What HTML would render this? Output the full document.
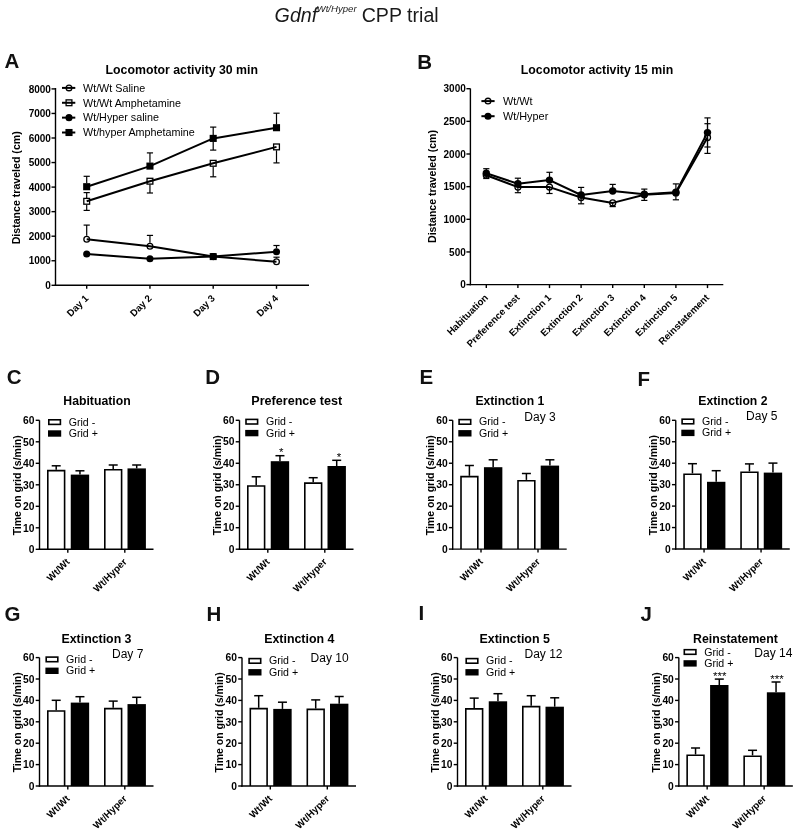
<!DOCTYPE html>
<html><head><meta charset="utf-8"><title>Gdnf CPP trial</title>
<style>
html,body{margin:0;padding:0;background:#fff;}
body{width:798px;height:832px;overflow:hidden;}
svg{display:block;font-family:"Liberation Sans", sans-serif;will-change:transform;}
</style></head>
<body>
<svg width="798" height="832" viewBox="0 0 798 832" font-family='"Liberation Sans", sans-serif'>
<rect width="798" height="832" fill="#fff"/>
<text x="274.6" y="21.5" font-size="19.7" font-style="italic" fill="#1a1a1a">Gdnf</text>
<text x="316.6" y="12.2" font-size="9.6" font-style="italic" fill="#1a1a1a">Wt/Hyper</text>
<text x="361.7" y="21.5" font-size="19.6" fill="#1a1a1a">CPP trial</text>
<text x="4.60" y="68.00" font-size="20.5" font-weight="bold" font-style="normal" text-anchor="start" fill="#111">A</text>
<text x="417.30" y="68.60" font-size="20.5" font-weight="bold" font-style="normal" text-anchor="start" fill="#111">B</text>
<text x="6.80" y="383.90" font-size="20.5" font-weight="bold" font-style="normal" text-anchor="start" fill="#111">C</text>
<text x="205.30" y="383.90" font-size="20.5" font-weight="bold" font-style="normal" text-anchor="start" fill="#111">D</text>
<text x="419.40" y="384.30" font-size="20.5" font-weight="bold" font-style="normal" text-anchor="start" fill="#111">E</text>
<text x="637.60" y="385.70" font-size="20.5" font-weight="bold" font-style="normal" text-anchor="start" fill="#111">F</text>
<text x="4.60" y="621.00" font-size="20.5" font-weight="bold" font-style="normal" text-anchor="start" fill="#111">G</text>
<text x="206.60" y="620.80" font-size="20.5" font-weight="bold" font-style="normal" text-anchor="start" fill="#111">H</text>
<text x="418.40" y="619.80" font-size="20.5" font-weight="bold" font-style="normal" text-anchor="start" fill="#111">I</text>
<text x="640.50" y="620.80" font-size="20.5" font-weight="bold" font-style="normal" text-anchor="start" fill="#111">J</text>
<line x1="55.50" y1="286.00" x2="55.50" y2="88.00" stroke="#000" stroke-width="1.4"/>
<line x1="51.50" y1="285.30" x2="55.50" y2="285.30" stroke="#000" stroke-width="1.4"/>
<text x="50.90" y="288.90" font-size="10" font-weight="bold" font-style="normal" text-anchor="end" fill="#000">0</text>
<line x1="51.50" y1="260.75" x2="55.50" y2="260.75" stroke="#000" stroke-width="1.4"/>
<text x="50.90" y="264.35" font-size="10" font-weight="bold" font-style="normal" text-anchor="end" fill="#000">1000</text>
<line x1="51.50" y1="236.20" x2="55.50" y2="236.20" stroke="#000" stroke-width="1.4"/>
<text x="50.90" y="239.80" font-size="10" font-weight="bold" font-style="normal" text-anchor="end" fill="#000">2000</text>
<line x1="51.50" y1="211.65" x2="55.50" y2="211.65" stroke="#000" stroke-width="1.4"/>
<text x="50.90" y="215.25" font-size="10" font-weight="bold" font-style="normal" text-anchor="end" fill="#000">3000</text>
<line x1="51.50" y1="187.10" x2="55.50" y2="187.10" stroke="#000" stroke-width="1.4"/>
<text x="50.90" y="190.70" font-size="10" font-weight="bold" font-style="normal" text-anchor="end" fill="#000">4000</text>
<line x1="51.50" y1="162.55" x2="55.50" y2="162.55" stroke="#000" stroke-width="1.4"/>
<text x="50.90" y="166.15" font-size="10" font-weight="bold" font-style="normal" text-anchor="end" fill="#000">5000</text>
<line x1="51.50" y1="138.00" x2="55.50" y2="138.00" stroke="#000" stroke-width="1.4"/>
<text x="50.90" y="141.60" font-size="10" font-weight="bold" font-style="normal" text-anchor="end" fill="#000">6000</text>
<line x1="51.50" y1="113.45" x2="55.50" y2="113.45" stroke="#000" stroke-width="1.4"/>
<text x="50.90" y="117.05" font-size="10" font-weight="bold" font-style="normal" text-anchor="end" fill="#000">7000</text>
<line x1="51.50" y1="88.90" x2="55.50" y2="88.90" stroke="#000" stroke-width="1.4"/>
<text x="50.90" y="92.50" font-size="10" font-weight="bold" font-style="normal" text-anchor="end" fill="#000">8000</text>
<line x1="54.80" y1="285.30" x2="309.00" y2="285.30" stroke="#000" stroke-width="1.4"/>
<line x1="86.70" y1="285.30" x2="86.70" y2="288.80" stroke="#000" stroke-width="1.4"/>
<text x="89.00" y="298.90" font-size="9.7" font-weight="bold" font-style="normal" text-anchor="end" fill="#000" transform="rotate(-45 89.00 298.90)">Day 1</text>
<line x1="149.95" y1="285.30" x2="149.95" y2="288.80" stroke="#000" stroke-width="1.4"/>
<text x="152.25" y="298.90" font-size="9.7" font-weight="bold" font-style="normal" text-anchor="end" fill="#000" transform="rotate(-45 152.25 298.90)">Day 2</text>
<line x1="213.20" y1="285.30" x2="213.20" y2="288.80" stroke="#000" stroke-width="1.4"/>
<text x="215.50" y="298.90" font-size="9.7" font-weight="bold" font-style="normal" text-anchor="end" fill="#000" transform="rotate(-45 215.50 298.90)">Day 3</text>
<line x1="276.50" y1="285.30" x2="276.50" y2="288.80" stroke="#000" stroke-width="1.4"/>
<text x="278.80" y="298.90" font-size="9.7" font-weight="bold" font-style="normal" text-anchor="end" fill="#000" transform="rotate(-45 278.80 298.90)">Day 4</text>
<text x="181.80" y="73.50" font-size="12.3" font-weight="bold" font-style="normal" text-anchor="middle" fill="#000">Locomotor activity 30 min</text>
<text x="20.40" y="187.80" font-size="10.6" font-weight="bold" font-style="normal" text-anchor="middle" fill="#000" transform="rotate(-90 20.40 187.80)">Distance traveled (cm)</text>
<line x1="86.70" y1="183.30" x2="86.70" y2="176.30" stroke="#000" stroke-width="1.2"/>
<line x1="83.60" y1="176.30" x2="89.80" y2="176.30" stroke="#000" stroke-width="1.2"/>
<line x1="149.95" y1="162.70" x2="149.95" y2="152.90" stroke="#000" stroke-width="1.2"/>
<line x1="146.85" y1="152.90" x2="153.05" y2="152.90" stroke="#000" stroke-width="1.2"/>
<line x1="213.20" y1="135.00" x2="213.20" y2="127.10" stroke="#000" stroke-width="1.2"/>
<line x1="210.10" y1="127.10" x2="216.30" y2="127.10" stroke="#000" stroke-width="1.2"/>
<line x1="213.20" y1="141.80" x2="213.20" y2="150.10" stroke="#000" stroke-width="1.2"/>
<line x1="210.10" y1="150.10" x2="216.30" y2="150.10" stroke="#000" stroke-width="1.2"/>
<line x1="276.50" y1="124.30" x2="276.50" y2="113.20" stroke="#000" stroke-width="1.2"/>
<line x1="273.40" y1="113.20" x2="279.60" y2="113.20" stroke="#000" stroke-width="1.2"/>
<polyline points="86.70,186.70 149.95,166.10 213.20,138.40 276.50,127.70" fill="none" stroke="#000" stroke-width="2.0" stroke-linejoin="round"/>
<line x1="86.70" y1="197.90" x2="86.70" y2="192.60" stroke="#000" stroke-width="1.2"/>
<line x1="83.60" y1="192.60" x2="89.80" y2="192.60" stroke="#000" stroke-width="1.2"/>
<line x1="86.70" y1="204.70" x2="86.70" y2="210.40" stroke="#000" stroke-width="1.2"/>
<line x1="83.60" y1="210.40" x2="89.80" y2="210.40" stroke="#000" stroke-width="1.2"/>
<line x1="149.95" y1="184.60" x2="149.95" y2="193.00" stroke="#000" stroke-width="1.2"/>
<line x1="146.85" y1="193.00" x2="153.05" y2="193.00" stroke="#000" stroke-width="1.2"/>
<line x1="213.20" y1="166.70" x2="213.20" y2="176.80" stroke="#000" stroke-width="1.2"/>
<line x1="210.10" y1="176.80" x2="216.30" y2="176.80" stroke="#000" stroke-width="1.2"/>
<line x1="276.50" y1="150.30" x2="276.50" y2="162.90" stroke="#000" stroke-width="1.2"/>
<line x1="273.40" y1="162.90" x2="279.60" y2="162.90" stroke="#000" stroke-width="1.2"/>
<polyline points="86.70,201.30 149.95,181.20 213.20,163.30 276.50,146.90" fill="none" stroke="#000" stroke-width="2.0" stroke-linejoin="round"/>
<line x1="86.70" y1="235.80" x2="86.70" y2="225.10" stroke="#000" stroke-width="1.2"/>
<line x1="83.60" y1="225.10" x2="89.80" y2="225.10" stroke="#000" stroke-width="1.2"/>
<line x1="149.95" y1="242.80" x2="149.95" y2="235.40" stroke="#000" stroke-width="1.2"/>
<line x1="146.85" y1="235.40" x2="153.05" y2="235.40" stroke="#000" stroke-width="1.2"/>
<line x1="276.50" y1="258.40" x2="276.50" y2="257.20" stroke="#000" stroke-width="1.2"/>
<line x1="273.40" y1="257.20" x2="279.60" y2="257.20" stroke="#000" stroke-width="1.2"/>
<polyline points="86.70,239.20 149.95,246.20 213.20,256.60 276.50,261.80" fill="none" stroke="#000" stroke-width="2.0" stroke-linejoin="round"/>
<line x1="276.50" y1="248.30" x2="276.50" y2="245.50" stroke="#000" stroke-width="1.2"/>
<line x1="273.40" y1="245.50" x2="279.60" y2="245.50" stroke="#000" stroke-width="1.2"/>
<polyline points="86.70,254.00 149.95,258.70 213.20,256.60 276.50,251.70" fill="none" stroke="#000" stroke-width="2.0" stroke-linejoin="round"/>
<rect x="83.15" y="183.15" width="7.10" height="7.10" fill="#000"/>
<rect x="146.40" y="162.55" width="7.10" height="7.10" fill="#000"/>
<rect x="209.65" y="134.85" width="7.10" height="7.10" fill="#000"/>
<rect x="272.95" y="124.15" width="7.10" height="7.10" fill="#000"/>
<rect x="83.80" y="198.40" width="5.80" height="5.80" fill="none" stroke="#000" stroke-width="1.3"/>
<rect x="147.05" y="178.30" width="5.80" height="5.80" fill="none" stroke="#000" stroke-width="1.3"/>
<rect x="210.30" y="160.40" width="5.80" height="5.80" fill="none" stroke="#000" stroke-width="1.3"/>
<rect x="273.60" y="144.00" width="5.80" height="5.80" fill="none" stroke="#000" stroke-width="1.3"/>
<circle cx="86.70" cy="239.20" r="2.85" fill="none" stroke="#000" stroke-width="1.3"/>
<circle cx="149.95" cy="246.20" r="2.85" fill="none" stroke="#000" stroke-width="1.3"/>
<circle cx="213.20" cy="256.60" r="2.85" fill="none" stroke="#000" stroke-width="1.3"/>
<circle cx="276.50" cy="261.80" r="2.85" fill="none" stroke="#000" stroke-width="1.3"/>
<circle cx="86.70" cy="254.00" r="3.55" fill="#000"/>
<circle cx="149.95" cy="258.70" r="3.55" fill="#000"/>
<circle cx="213.20" cy="256.60" r="3.55" fill="#000"/>
<circle cx="276.50" cy="251.70" r="3.55" fill="#000"/>
<rect x="209.70" y="253.10" width="7.00" height="7.00" fill="#000"/>
<line x1="62.00" y1="87.90" x2="75.30" y2="87.90" stroke="#000" stroke-width="2.0"/>
<circle cx="69.00" cy="87.90" r="2.85" fill="none" stroke="#000" stroke-width="1.3"/>
<text x="83.00" y="91.75" font-size="10.75" font-weight="normal" font-style="normal" text-anchor="start" fill="#000">Wt/Wt Saline</text>
<line x1="62.00" y1="102.77" x2="75.30" y2="102.77" stroke="#000" stroke-width="2.0"/>
<rect x="66.10" y="99.87" width="5.80" height="5.80" fill="none" stroke="#000" stroke-width="1.3"/>
<text x="83.00" y="106.62" font-size="10.75" font-weight="normal" font-style="normal" text-anchor="start" fill="#000">Wt/Wt Amphetamine</text>
<line x1="62.00" y1="117.64" x2="75.30" y2="117.64" stroke="#000" stroke-width="2.0"/>
<circle cx="69.00" cy="117.64" r="3.55" fill="#000"/>
<text x="83.00" y="121.49" font-size="10.75" font-weight="normal" font-style="normal" text-anchor="start" fill="#000">Wt/Hyper saline</text>
<line x1="62.00" y1="132.51" x2="75.30" y2="132.51" stroke="#000" stroke-width="2.0"/>
<rect x="65.45" y="128.96" width="7.10" height="7.10" fill="#000"/>
<text x="83.00" y="136.36" font-size="10.75" font-weight="normal" font-style="normal" text-anchor="start" fill="#000">Wt/hyper Amphetamine</text>
<line x1="470.40" y1="285.30" x2="470.40" y2="88.50" stroke="#000" stroke-width="1.4"/>
<line x1="466.40" y1="284.60" x2="470.40" y2="284.60" stroke="#000" stroke-width="1.4"/>
<text x="465.80" y="288.20" font-size="10" font-weight="bold" font-style="normal" text-anchor="end" fill="#000">0</text>
<line x1="466.40" y1="251.95" x2="470.40" y2="251.95" stroke="#000" stroke-width="1.4"/>
<text x="465.80" y="255.55" font-size="10" font-weight="bold" font-style="normal" text-anchor="end" fill="#000">500</text>
<line x1="466.40" y1="219.30" x2="470.40" y2="219.30" stroke="#000" stroke-width="1.4"/>
<text x="465.80" y="222.90" font-size="10" font-weight="bold" font-style="normal" text-anchor="end" fill="#000">1000</text>
<line x1="466.40" y1="186.65" x2="470.40" y2="186.65" stroke="#000" stroke-width="1.4"/>
<text x="465.80" y="190.25" font-size="10" font-weight="bold" font-style="normal" text-anchor="end" fill="#000">1500</text>
<line x1="466.40" y1="154.00" x2="470.40" y2="154.00" stroke="#000" stroke-width="1.4"/>
<text x="465.80" y="157.60" font-size="10" font-weight="bold" font-style="normal" text-anchor="end" fill="#000">2000</text>
<line x1="466.40" y1="121.35" x2="470.40" y2="121.35" stroke="#000" stroke-width="1.4"/>
<text x="465.80" y="124.95" font-size="10" font-weight="bold" font-style="normal" text-anchor="end" fill="#000">2500</text>
<line x1="466.40" y1="88.70" x2="470.40" y2="88.70" stroke="#000" stroke-width="1.4"/>
<text x="465.80" y="92.30" font-size="10" font-weight="bold" font-style="normal" text-anchor="end" fill="#000">3000</text>
<line x1="469.70" y1="284.60" x2="723.30" y2="284.60" stroke="#000" stroke-width="1.4"/>
<line x1="486.30" y1="284.60" x2="486.30" y2="288.10" stroke="#000" stroke-width="1.4"/>
<text x="488.60" y="298.20" font-size="9.7" font-weight="bold" font-style="normal" text-anchor="end" fill="#000" transform="rotate(-45 488.60 298.20)">Habituation</text>
<line x1="517.90" y1="284.60" x2="517.90" y2="288.10" stroke="#000" stroke-width="1.4"/>
<text x="520.20" y="298.20" font-size="9.7" font-weight="bold" font-style="normal" text-anchor="end" fill="#000" transform="rotate(-45 520.20 298.20)">Preference test</text>
<line x1="549.50" y1="284.60" x2="549.50" y2="288.10" stroke="#000" stroke-width="1.4"/>
<text x="551.80" y="298.20" font-size="9.7" font-weight="bold" font-style="normal" text-anchor="end" fill="#000" transform="rotate(-45 551.80 298.20)">Extinction 1</text>
<line x1="581.10" y1="284.60" x2="581.10" y2="288.10" stroke="#000" stroke-width="1.4"/>
<text x="583.40" y="298.20" font-size="9.7" font-weight="bold" font-style="normal" text-anchor="end" fill="#000" transform="rotate(-45 583.40 298.20)">Extinction 2</text>
<line x1="612.70" y1="284.60" x2="612.70" y2="288.10" stroke="#000" stroke-width="1.4"/>
<text x="615.00" y="298.20" font-size="9.7" font-weight="bold" font-style="normal" text-anchor="end" fill="#000" transform="rotate(-45 615.00 298.20)">Extinction 3</text>
<line x1="644.30" y1="284.60" x2="644.30" y2="288.10" stroke="#000" stroke-width="1.4"/>
<text x="646.60" y="298.20" font-size="9.7" font-weight="bold" font-style="normal" text-anchor="end" fill="#000" transform="rotate(-45 646.60 298.20)">Extinction 4</text>
<line x1="675.90" y1="284.60" x2="675.90" y2="288.10" stroke="#000" stroke-width="1.4"/>
<text x="678.20" y="298.20" font-size="9.7" font-weight="bold" font-style="normal" text-anchor="end" fill="#000" transform="rotate(-45 678.20 298.20)">Extinction 5</text>
<line x1="707.50" y1="284.60" x2="707.50" y2="288.10" stroke="#000" stroke-width="1.4"/>
<text x="709.80" y="298.20" font-size="9.7" font-weight="bold" font-style="normal" text-anchor="end" fill="#000" transform="rotate(-45 709.80 298.20)">Reinstatement</text>
<text x="597.00" y="73.50" font-size="12.3" font-weight="bold" font-style="normal" text-anchor="middle" fill="#000">Locomotor activity 15 min</text>
<text x="435.90" y="186.50" font-size="10.6" font-weight="bold" font-style="normal" text-anchor="middle" fill="#000" transform="rotate(-90 435.90 186.50)">Distance traveled (cm)</text>
<line x1="486.30" y1="175.20" x2="486.30" y2="178.50" stroke="#000" stroke-width="1.2"/>
<line x1="483.20" y1="178.50" x2="489.40" y2="178.50" stroke="#000" stroke-width="1.2"/>
<line x1="517.90" y1="187.10" x2="517.90" y2="192.70" stroke="#000" stroke-width="1.2"/>
<line x1="514.80" y1="192.70" x2="521.00" y2="192.70" stroke="#000" stroke-width="1.2"/>
<line x1="549.50" y1="187.10" x2="549.50" y2="193.50" stroke="#000" stroke-width="1.2"/>
<line x1="546.40" y1="193.50" x2="552.60" y2="193.50" stroke="#000" stroke-width="1.2"/>
<line x1="581.10" y1="197.50" x2="581.10" y2="203.80" stroke="#000" stroke-width="1.2"/>
<line x1="578.00" y1="203.80" x2="584.20" y2="203.80" stroke="#000" stroke-width="1.2"/>
<line x1="612.70" y1="202.90" x2="612.70" y2="206.60" stroke="#000" stroke-width="1.2"/>
<line x1="609.60" y1="206.60" x2="615.80" y2="206.60" stroke="#000" stroke-width="1.2"/>
<line x1="644.30" y1="194.80" x2="644.30" y2="200.40" stroke="#000" stroke-width="1.2"/>
<line x1="641.20" y1="200.40" x2="647.40" y2="200.40" stroke="#000" stroke-width="1.2"/>
<line x1="675.90" y1="192.90" x2="675.90" y2="199.80" stroke="#000" stroke-width="1.2"/>
<line x1="672.80" y1="199.80" x2="679.00" y2="199.80" stroke="#000" stroke-width="1.2"/>
<line x1="707.50" y1="137.50" x2="707.50" y2="123.70" stroke="#000" stroke-width="1.2"/>
<line x1="704.40" y1="123.70" x2="710.60" y2="123.70" stroke="#000" stroke-width="1.2"/>
<line x1="707.50" y1="137.50" x2="707.50" y2="153.40" stroke="#000" stroke-width="1.2"/>
<line x1="704.40" y1="153.40" x2="710.60" y2="153.40" stroke="#000" stroke-width="1.2"/>
<polyline points="486.30,175.20 517.90,187.10 549.50,187.10 581.10,197.50 612.70,202.90 644.30,194.80 675.90,192.90 707.50,137.50" fill="none" stroke="#000" stroke-width="2.0" stroke-linejoin="round"/>
<line x1="486.30" y1="173.30" x2="486.30" y2="168.70" stroke="#000" stroke-width="1.2"/>
<line x1="483.20" y1="168.70" x2="489.40" y2="168.70" stroke="#000" stroke-width="1.2"/>
<line x1="517.90" y1="183.70" x2="517.90" y2="178.20" stroke="#000" stroke-width="1.2"/>
<line x1="514.80" y1="178.20" x2="521.00" y2="178.20" stroke="#000" stroke-width="1.2"/>
<line x1="549.50" y1="180.10" x2="549.50" y2="172.30" stroke="#000" stroke-width="1.2"/>
<line x1="546.40" y1="172.30" x2="552.60" y2="172.30" stroke="#000" stroke-width="1.2"/>
<line x1="581.10" y1="195.00" x2="581.10" y2="187.40" stroke="#000" stroke-width="1.2"/>
<line x1="578.00" y1="187.40" x2="584.20" y2="187.40" stroke="#000" stroke-width="1.2"/>
<line x1="612.70" y1="191.00" x2="612.70" y2="184.40" stroke="#000" stroke-width="1.2"/>
<line x1="609.60" y1="184.40" x2="615.80" y2="184.40" stroke="#000" stroke-width="1.2"/>
<line x1="644.30" y1="194.20" x2="644.30" y2="189.10" stroke="#000" stroke-width="1.2"/>
<line x1="641.20" y1="189.10" x2="647.40" y2="189.10" stroke="#000" stroke-width="1.2"/>
<line x1="675.90" y1="192.30" x2="675.90" y2="183.90" stroke="#000" stroke-width="1.2"/>
<line x1="672.80" y1="183.90" x2="679.00" y2="183.90" stroke="#000" stroke-width="1.2"/>
<line x1="707.50" y1="132.60" x2="707.50" y2="117.90" stroke="#000" stroke-width="1.2"/>
<line x1="704.40" y1="117.90" x2="710.60" y2="117.90" stroke="#000" stroke-width="1.2"/>
<line x1="707.50" y1="132.60" x2="707.50" y2="147.00" stroke="#000" stroke-width="1.2"/>
<line x1="704.40" y1="147.00" x2="710.60" y2="147.00" stroke="#000" stroke-width="1.2"/>
<polyline points="486.30,173.30 517.90,183.70 549.50,180.10 581.10,195.00 612.70,191.00 644.30,194.20 675.90,192.30 707.50,132.60" fill="none" stroke="#000" stroke-width="2.0" stroke-linejoin="round"/>
<circle cx="486.30" cy="175.20" r="3.00" fill="none" stroke="#000" stroke-width="1.3"/>
<circle cx="517.90" cy="187.10" r="3.00" fill="none" stroke="#000" stroke-width="1.3"/>
<circle cx="549.50" cy="187.10" r="3.00" fill="none" stroke="#000" stroke-width="1.3"/>
<circle cx="581.10" cy="197.50" r="3.00" fill="none" stroke="#000" stroke-width="1.3"/>
<circle cx="612.70" cy="202.90" r="3.00" fill="none" stroke="#000" stroke-width="1.3"/>
<circle cx="644.30" cy="194.80" r="3.00" fill="none" stroke="#000" stroke-width="1.3"/>
<circle cx="675.90" cy="192.90" r="3.00" fill="none" stroke="#000" stroke-width="1.3"/>
<circle cx="707.50" cy="137.50" r="3.00" fill="none" stroke="#000" stroke-width="1.3"/>
<circle cx="486.30" cy="173.30" r="3.70" fill="#000"/>
<circle cx="517.90" cy="183.70" r="3.70" fill="#000"/>
<circle cx="549.50" cy="180.10" r="3.70" fill="#000"/>
<circle cx="581.10" cy="195.00" r="3.70" fill="#000"/>
<circle cx="612.70" cy="191.00" r="3.70" fill="#000"/>
<circle cx="644.30" cy="194.20" r="3.70" fill="#000"/>
<circle cx="675.90" cy="192.30" r="3.70" fill="#000"/>
<circle cx="707.50" cy="132.60" r="3.70" fill="#000"/>
<line x1="481.40" y1="101.10" x2="494.60" y2="101.10" stroke="#000" stroke-width="2.0"/>
<circle cx="488.00" cy="101.10" r="2.85" fill="none" stroke="#000" stroke-width="1.3"/>
<text x="502.90" y="104.95" font-size="10.9" font-weight="normal" font-style="normal" text-anchor="start" fill="#000">Wt/Wt</text>
<line x1="481.40" y1="116.20" x2="494.60" y2="116.20" stroke="#000" stroke-width="2.0"/>
<circle cx="488.00" cy="116.20" r="3.55" fill="#000"/>
<text x="502.90" y="120.05" font-size="10.9" font-weight="normal" font-style="normal" text-anchor="start" fill="#000">Wt/Hyper</text>
<line x1="56.20" y1="469.80" x2="56.20" y2="465.80" stroke="#000" stroke-width="1.5"/>
<line x1="51.70" y1="465.80" x2="60.70" y2="465.80" stroke="#000" stroke-width="1.5"/>
<path d="M47.80,549.30 V470.60 H64.60 V549.30" fill="#fff" stroke="#000" stroke-width="1.6"/>
<line x1="79.95" y1="474.60" x2="79.95" y2="470.80" stroke="#000" stroke-width="1.5"/>
<line x1="75.45" y1="470.80" x2="84.45" y2="470.80" stroke="#000" stroke-width="1.5"/>
<rect x="70.75" y="474.60" width="18.40" height="74.70" fill="#000"/>
<line x1="113.20" y1="468.90" x2="113.20" y2="465.00" stroke="#000" stroke-width="1.5"/>
<line x1="108.70" y1="465.00" x2="117.70" y2="465.00" stroke="#000" stroke-width="1.5"/>
<path d="M104.80,549.30 V469.70 H121.60 V549.30" fill="#fff" stroke="#000" stroke-width="1.6"/>
<line x1="136.70" y1="468.40" x2="136.70" y2="465.00" stroke="#000" stroke-width="1.5"/>
<line x1="132.20" y1="465.00" x2="141.20" y2="465.00" stroke="#000" stroke-width="1.5"/>
<rect x="127.50" y="468.40" width="18.40" height="80.90" fill="#000"/>
<line x1="39.50" y1="550.00" x2="39.50" y2="420.30" stroke="#000" stroke-width="1.4"/>
<line x1="35.70" y1="549.30" x2="39.50" y2="549.30" stroke="#000" stroke-width="1.4"/>
<text x="34.50" y="553.00" font-size="10.3" font-weight="bold" font-style="normal" text-anchor="end" fill="#000">0</text>
<line x1="35.70" y1="527.80" x2="39.50" y2="527.80" stroke="#000" stroke-width="1.4"/>
<text x="34.50" y="531.50" font-size="10.3" font-weight="bold" font-style="normal" text-anchor="end" fill="#000">10</text>
<line x1="35.70" y1="506.30" x2="39.50" y2="506.30" stroke="#000" stroke-width="1.4"/>
<text x="34.50" y="510.00" font-size="10.3" font-weight="bold" font-style="normal" text-anchor="end" fill="#000">20</text>
<line x1="35.70" y1="484.80" x2="39.50" y2="484.80" stroke="#000" stroke-width="1.4"/>
<text x="34.50" y="488.50" font-size="10.3" font-weight="bold" font-style="normal" text-anchor="end" fill="#000">30</text>
<line x1="35.70" y1="463.30" x2="39.50" y2="463.30" stroke="#000" stroke-width="1.4"/>
<text x="34.50" y="467.00" font-size="10.3" font-weight="bold" font-style="normal" text-anchor="end" fill="#000">40</text>
<line x1="35.70" y1="441.80" x2="39.50" y2="441.80" stroke="#000" stroke-width="1.4"/>
<text x="34.50" y="445.50" font-size="10.3" font-weight="bold" font-style="normal" text-anchor="end" fill="#000">50</text>
<line x1="35.70" y1="420.30" x2="39.50" y2="420.30" stroke="#000" stroke-width="1.4"/>
<text x="34.50" y="424.00" font-size="10.3" font-weight="bold" font-style="normal" text-anchor="end" fill="#000">60</text>
<line x1="38.80" y1="549.30" x2="153.50" y2="549.30" stroke="#000" stroke-width="1.4"/>
<line x1="67.80" y1="549.30" x2="67.80" y2="552.80" stroke="#000" stroke-width="1.4"/>
<text x="70.40" y="562.50" font-size="9.75" font-weight="bold" font-style="normal" text-anchor="end" fill="#000" transform="rotate(-45 70.40 562.50)">Wt/Wt</text>
<line x1="124.80" y1="549.30" x2="124.80" y2="552.80" stroke="#000" stroke-width="1.4"/>
<text x="127.40" y="562.50" font-size="9.75" font-weight="bold" font-style="normal" text-anchor="end" fill="#000" transform="rotate(-45 127.40 562.50)">Wt/Hyper</text>
<text x="97.00" y="405.40" font-size="12.25" font-weight="bold" font-style="normal" text-anchor="middle" fill="#000">Habituation</text>
<text x="20.80" y="485.30" font-size="10.5" font-weight="bold" font-style="normal" text-anchor="middle" fill="#000" transform="rotate(-90 20.80 485.30)">Time on grid (s/min)</text>
<rect x="48.80" y="419.80" width="11.6" height="4.6" fill="#fff" stroke="#000" stroke-width="1.6"/>
<rect x="48.00" y="430.30" width="13.2" height="6.4" fill="#000"/>
<text x="68.70" y="425.60" font-size="10.6" font-weight="normal" font-style="normal" text-anchor="start" fill="#000">Grid -</text>
<text x="68.70" y="437.00" font-size="10.6" font-weight="normal" font-style="normal" text-anchor="start" fill="#000">Grid +</text>
<line x1="256.20" y1="485.20" x2="256.20" y2="476.80" stroke="#000" stroke-width="1.5"/>
<line x1="251.70" y1="476.80" x2="260.70" y2="476.80" stroke="#000" stroke-width="1.5"/>
<path d="M247.80,549.20 V486.00 H264.60 V549.20" fill="#fff" stroke="#000" stroke-width="1.6"/>
<line x1="279.95" y1="461.20" x2="279.95" y2="455.70" stroke="#000" stroke-width="1.5"/>
<line x1="275.45" y1="455.70" x2="284.45" y2="455.70" stroke="#000" stroke-width="1.5"/>
<rect x="270.75" y="461.20" width="18.40" height="88.00" fill="#000"/>
<line x1="313.20" y1="482.30" x2="313.20" y2="477.70" stroke="#000" stroke-width="1.5"/>
<line x1="308.70" y1="477.70" x2="317.70" y2="477.70" stroke="#000" stroke-width="1.5"/>
<path d="M304.80,549.20 V483.10 H321.60 V549.20" fill="#fff" stroke="#000" stroke-width="1.6"/>
<line x1="336.70" y1="466.00" x2="336.70" y2="460.30" stroke="#000" stroke-width="1.5"/>
<line x1="332.20" y1="460.30" x2="341.20" y2="460.30" stroke="#000" stroke-width="1.5"/>
<rect x="327.50" y="466.00" width="18.40" height="83.20" fill="#000"/>
<line x1="239.50" y1="549.90" x2="239.50" y2="420.30" stroke="#000" stroke-width="1.4"/>
<line x1="235.70" y1="549.20" x2="239.50" y2="549.20" stroke="#000" stroke-width="1.4"/>
<text x="234.50" y="552.90" font-size="10.3" font-weight="bold" font-style="normal" text-anchor="end" fill="#000">0</text>
<line x1="235.70" y1="527.72" x2="239.50" y2="527.72" stroke="#000" stroke-width="1.4"/>
<text x="234.50" y="531.42" font-size="10.3" font-weight="bold" font-style="normal" text-anchor="end" fill="#000">10</text>
<line x1="235.70" y1="506.23" x2="239.50" y2="506.23" stroke="#000" stroke-width="1.4"/>
<text x="234.50" y="509.93" font-size="10.3" font-weight="bold" font-style="normal" text-anchor="end" fill="#000">20</text>
<line x1="235.70" y1="484.75" x2="239.50" y2="484.75" stroke="#000" stroke-width="1.4"/>
<text x="234.50" y="488.45" font-size="10.3" font-weight="bold" font-style="normal" text-anchor="end" fill="#000">30</text>
<line x1="235.70" y1="463.27" x2="239.50" y2="463.27" stroke="#000" stroke-width="1.4"/>
<text x="234.50" y="466.97" font-size="10.3" font-weight="bold" font-style="normal" text-anchor="end" fill="#000">40</text>
<line x1="235.70" y1="441.78" x2="239.50" y2="441.78" stroke="#000" stroke-width="1.4"/>
<text x="234.50" y="445.48" font-size="10.3" font-weight="bold" font-style="normal" text-anchor="end" fill="#000">50</text>
<line x1="235.70" y1="420.30" x2="239.50" y2="420.30" stroke="#000" stroke-width="1.4"/>
<text x="234.50" y="424.00" font-size="10.3" font-weight="bold" font-style="normal" text-anchor="end" fill="#000">60</text>
<line x1="238.80" y1="549.20" x2="353.50" y2="549.20" stroke="#000" stroke-width="1.4"/>
<line x1="267.80" y1="549.20" x2="267.80" y2="552.70" stroke="#000" stroke-width="1.4"/>
<text x="270.40" y="562.40" font-size="9.75" font-weight="bold" font-style="normal" text-anchor="end" fill="#000" transform="rotate(-45 270.40 562.40)">Wt/Wt</text>
<line x1="324.80" y1="549.20" x2="324.80" y2="552.70" stroke="#000" stroke-width="1.4"/>
<text x="327.40" y="562.40" font-size="9.75" font-weight="bold" font-style="normal" text-anchor="end" fill="#000" transform="rotate(-45 327.40 562.40)">Wt/Hyper</text>
<text x="296.75" y="404.80" font-size="12.6" font-weight="bold" font-style="normal" text-anchor="middle" fill="#000">Preference test</text>
<text x="220.80" y="485.25" font-size="10.5" font-weight="bold" font-style="normal" text-anchor="middle" fill="#000" transform="rotate(-90 220.80 485.25)">Time on grid (s/min)</text>
<rect x="246.00" y="419.40" width="11.6" height="4.6" fill="#fff" stroke="#000" stroke-width="1.6"/>
<rect x="245.20" y="429.90" width="13.2" height="6.4" fill="#000"/>
<text x="265.90" y="425.20" font-size="10.6" font-weight="normal" font-style="normal" text-anchor="start" fill="#000">Grid -</text>
<text x="265.90" y="436.60" font-size="10.6" font-weight="normal" font-style="normal" text-anchor="start" fill="#000">Grid +</text>
<text x="281.20" y="456.20" font-size="11.5" font-weight="normal" font-style="normal" text-anchor="middle" fill="#000">*</text>
<text x="339.00" y="460.70" font-size="11.5" font-weight="normal" font-style="normal" text-anchor="middle" fill="#000">*</text>
<line x1="469.40" y1="475.80" x2="469.40" y2="465.50" stroke="#000" stroke-width="1.5"/>
<line x1="464.90" y1="465.50" x2="473.90" y2="465.50" stroke="#000" stroke-width="1.5"/>
<path d="M461.00,549.10 V476.60 H477.80 V549.10" fill="#fff" stroke="#000" stroke-width="1.6"/>
<line x1="493.15" y1="467.20" x2="493.15" y2="459.80" stroke="#000" stroke-width="1.5"/>
<line x1="488.65" y1="459.80" x2="497.65" y2="459.80" stroke="#000" stroke-width="1.5"/>
<rect x="483.95" y="467.20" width="18.40" height="81.90" fill="#000"/>
<line x1="526.40" y1="479.90" x2="526.40" y2="473.50" stroke="#000" stroke-width="1.5"/>
<line x1="521.90" y1="473.50" x2="530.90" y2="473.50" stroke="#000" stroke-width="1.5"/>
<path d="M518.00,549.10 V480.70 H534.80 V549.10" fill="#fff" stroke="#000" stroke-width="1.6"/>
<line x1="549.90" y1="465.60" x2="549.90" y2="459.80" stroke="#000" stroke-width="1.5"/>
<line x1="545.40" y1="459.80" x2="554.40" y2="459.80" stroke="#000" stroke-width="1.5"/>
<rect x="540.70" y="465.60" width="18.40" height="83.50" fill="#000"/>
<line x1="452.70" y1="549.80" x2="452.70" y2="420.30" stroke="#000" stroke-width="1.4"/>
<line x1="448.90" y1="549.10" x2="452.70" y2="549.10" stroke="#000" stroke-width="1.4"/>
<text x="447.70" y="552.80" font-size="10.3" font-weight="bold" font-style="normal" text-anchor="end" fill="#000">0</text>
<line x1="448.90" y1="527.63" x2="452.70" y2="527.63" stroke="#000" stroke-width="1.4"/>
<text x="447.70" y="531.33" font-size="10.3" font-weight="bold" font-style="normal" text-anchor="end" fill="#000">10</text>
<line x1="448.90" y1="506.17" x2="452.70" y2="506.17" stroke="#000" stroke-width="1.4"/>
<text x="447.70" y="509.87" font-size="10.3" font-weight="bold" font-style="normal" text-anchor="end" fill="#000">20</text>
<line x1="448.90" y1="484.70" x2="452.70" y2="484.70" stroke="#000" stroke-width="1.4"/>
<text x="447.70" y="488.40" font-size="10.3" font-weight="bold" font-style="normal" text-anchor="end" fill="#000">30</text>
<line x1="448.90" y1="463.23" x2="452.70" y2="463.23" stroke="#000" stroke-width="1.4"/>
<text x="447.70" y="466.93" font-size="10.3" font-weight="bold" font-style="normal" text-anchor="end" fill="#000">40</text>
<line x1="448.90" y1="441.77" x2="452.70" y2="441.77" stroke="#000" stroke-width="1.4"/>
<text x="447.70" y="445.47" font-size="10.3" font-weight="bold" font-style="normal" text-anchor="end" fill="#000">50</text>
<line x1="448.90" y1="420.30" x2="452.70" y2="420.30" stroke="#000" stroke-width="1.4"/>
<text x="447.70" y="424.00" font-size="10.3" font-weight="bold" font-style="normal" text-anchor="end" fill="#000">60</text>
<line x1="452.00" y1="549.10" x2="566.70" y2="549.10" stroke="#000" stroke-width="1.4"/>
<line x1="481.00" y1="549.10" x2="481.00" y2="552.60" stroke="#000" stroke-width="1.4"/>
<text x="483.60" y="562.30" font-size="9.75" font-weight="bold" font-style="normal" text-anchor="end" fill="#000" transform="rotate(-45 483.60 562.30)">Wt/Wt</text>
<line x1="538.00" y1="549.10" x2="538.00" y2="552.60" stroke="#000" stroke-width="1.4"/>
<text x="540.60" y="562.30" font-size="9.75" font-weight="bold" font-style="normal" text-anchor="end" fill="#000" transform="rotate(-45 540.60 562.30)">Wt/Hyper</text>
<text x="509.80" y="405.20" font-size="12.15" font-weight="bold" font-style="normal" text-anchor="middle" fill="#000">Extinction 1</text>
<text x="434.00" y="485.20" font-size="10.5" font-weight="bold" font-style="normal" text-anchor="middle" fill="#000" transform="rotate(-90 434.00 485.20)">Time on grid (s/min)</text>
<rect x="459.10" y="419.60" width="11.6" height="4.6" fill="#fff" stroke="#000" stroke-width="1.6"/>
<rect x="458.30" y="430.10" width="13.2" height="6.4" fill="#000"/>
<text x="479.00" y="425.40" font-size="10.6" font-weight="normal" font-style="normal" text-anchor="start" fill="#000">Grid -</text>
<text x="479.00" y="436.80" font-size="10.6" font-weight="normal" font-style="normal" text-anchor="start" fill="#000">Grid +</text>
<text x="524.30" y="421.40" font-size="12" font-weight="normal" font-style="normal" text-anchor="start" fill="#000">Day 3</text>
<line x1="692.45" y1="473.40" x2="692.45" y2="463.70" stroke="#000" stroke-width="1.5"/>
<line x1="687.95" y1="463.70" x2="696.95" y2="463.70" stroke="#000" stroke-width="1.5"/>
<path d="M684.05,549.00 V474.20 H700.85 V549.00" fill="#fff" stroke="#000" stroke-width="1.6"/>
<line x1="716.20" y1="481.80" x2="716.20" y2="470.70" stroke="#000" stroke-width="1.5"/>
<line x1="711.70" y1="470.70" x2="720.70" y2="470.70" stroke="#000" stroke-width="1.5"/>
<rect x="707.00" y="481.80" width="18.40" height="67.20" fill="#000"/>
<line x1="749.45" y1="471.40" x2="749.45" y2="463.90" stroke="#000" stroke-width="1.5"/>
<line x1="744.95" y1="463.90" x2="753.95" y2="463.90" stroke="#000" stroke-width="1.5"/>
<path d="M741.05,549.00 V472.20 H757.85 V549.00" fill="#fff" stroke="#000" stroke-width="1.6"/>
<line x1="772.95" y1="472.60" x2="772.95" y2="463.10" stroke="#000" stroke-width="1.5"/>
<line x1="768.45" y1="463.10" x2="777.45" y2="463.10" stroke="#000" stroke-width="1.5"/>
<rect x="763.75" y="472.60" width="18.40" height="76.40" fill="#000"/>
<line x1="675.75" y1="549.70" x2="675.75" y2="420.30" stroke="#000" stroke-width="1.4"/>
<line x1="671.95" y1="549.00" x2="675.75" y2="549.00" stroke="#000" stroke-width="1.4"/>
<text x="670.75" y="552.70" font-size="10.3" font-weight="bold" font-style="normal" text-anchor="end" fill="#000">0</text>
<line x1="671.95" y1="527.55" x2="675.75" y2="527.55" stroke="#000" stroke-width="1.4"/>
<text x="670.75" y="531.25" font-size="10.3" font-weight="bold" font-style="normal" text-anchor="end" fill="#000">10</text>
<line x1="671.95" y1="506.10" x2="675.75" y2="506.10" stroke="#000" stroke-width="1.4"/>
<text x="670.75" y="509.80" font-size="10.3" font-weight="bold" font-style="normal" text-anchor="end" fill="#000">20</text>
<line x1="671.95" y1="484.65" x2="675.75" y2="484.65" stroke="#000" stroke-width="1.4"/>
<text x="670.75" y="488.35" font-size="10.3" font-weight="bold" font-style="normal" text-anchor="end" fill="#000">30</text>
<line x1="671.95" y1="463.20" x2="675.75" y2="463.20" stroke="#000" stroke-width="1.4"/>
<text x="670.75" y="466.90" font-size="10.3" font-weight="bold" font-style="normal" text-anchor="end" fill="#000">40</text>
<line x1="671.95" y1="441.75" x2="675.75" y2="441.75" stroke="#000" stroke-width="1.4"/>
<text x="670.75" y="445.45" font-size="10.3" font-weight="bold" font-style="normal" text-anchor="end" fill="#000">50</text>
<line x1="671.95" y1="420.30" x2="675.75" y2="420.30" stroke="#000" stroke-width="1.4"/>
<text x="670.75" y="424.00" font-size="10.3" font-weight="bold" font-style="normal" text-anchor="end" fill="#000">60</text>
<line x1="675.05" y1="549.00" x2="789.75" y2="549.00" stroke="#000" stroke-width="1.4"/>
<line x1="704.05" y1="549.00" x2="704.05" y2="552.50" stroke="#000" stroke-width="1.4"/>
<text x="706.65" y="562.20" font-size="9.75" font-weight="bold" font-style="normal" text-anchor="end" fill="#000" transform="rotate(-45 706.65 562.20)">Wt/Wt</text>
<line x1="761.05" y1="549.00" x2="761.05" y2="552.50" stroke="#000" stroke-width="1.4"/>
<text x="763.65" y="562.20" font-size="9.75" font-weight="bold" font-style="normal" text-anchor="end" fill="#000" transform="rotate(-45 763.65 562.20)">Wt/Hyper</text>
<text x="732.90" y="405.20" font-size="12.2" font-weight="bold" font-style="normal" text-anchor="middle" fill="#000">Extinction 2</text>
<text x="657.05" y="485.15" font-size="10.5" font-weight="bold" font-style="normal" text-anchor="middle" fill="#000" transform="rotate(-90 657.05 485.15)">Time on grid (s/min)</text>
<rect x="682.10" y="419.20" width="11.6" height="4.6" fill="#fff" stroke="#000" stroke-width="1.6"/>
<rect x="681.30" y="429.70" width="13.2" height="6.4" fill="#000"/>
<text x="702.00" y="425.00" font-size="10.6" font-weight="normal" font-style="normal" text-anchor="start" fill="#000">Grid -</text>
<text x="702.00" y="436.40" font-size="10.6" font-weight="normal" font-style="normal" text-anchor="start" fill="#000">Grid +</text>
<text x="746.10" y="419.50" font-size="12" font-weight="normal" font-style="normal" text-anchor="start" fill="#000">Day 5</text>
<line x1="56.20" y1="710.20" x2="56.20" y2="700.30" stroke="#000" stroke-width="1.5"/>
<line x1="51.70" y1="700.30" x2="60.70" y2="700.30" stroke="#000" stroke-width="1.5"/>
<path d="M47.80,786.00 V711.00 H64.60 V786.00" fill="#fff" stroke="#000" stroke-width="1.6"/>
<line x1="79.95" y1="702.60" x2="79.95" y2="696.70" stroke="#000" stroke-width="1.5"/>
<line x1="75.45" y1="696.70" x2="84.45" y2="696.70" stroke="#000" stroke-width="1.5"/>
<rect x="70.75" y="702.60" width="18.40" height="83.40" fill="#000"/>
<line x1="113.20" y1="707.80" x2="113.20" y2="701.10" stroke="#000" stroke-width="1.5"/>
<line x1="108.70" y1="701.10" x2="117.70" y2="701.10" stroke="#000" stroke-width="1.5"/>
<path d="M104.80,786.00 V708.60 H121.60 V786.00" fill="#fff" stroke="#000" stroke-width="1.6"/>
<line x1="136.70" y1="704.10" x2="136.70" y2="697.30" stroke="#000" stroke-width="1.5"/>
<line x1="132.20" y1="697.30" x2="141.20" y2="697.30" stroke="#000" stroke-width="1.5"/>
<rect x="127.50" y="704.10" width="18.40" height="81.90" fill="#000"/>
<line x1="39.50" y1="786.70" x2="39.50" y2="657.60" stroke="#000" stroke-width="1.4"/>
<line x1="35.70" y1="786.00" x2="39.50" y2="786.00" stroke="#000" stroke-width="1.4"/>
<text x="34.50" y="789.70" font-size="10.3" font-weight="bold" font-style="normal" text-anchor="end" fill="#000">0</text>
<line x1="35.70" y1="764.60" x2="39.50" y2="764.60" stroke="#000" stroke-width="1.4"/>
<text x="34.50" y="768.30" font-size="10.3" font-weight="bold" font-style="normal" text-anchor="end" fill="#000">10</text>
<line x1="35.70" y1="743.20" x2="39.50" y2="743.20" stroke="#000" stroke-width="1.4"/>
<text x="34.50" y="746.90" font-size="10.3" font-weight="bold" font-style="normal" text-anchor="end" fill="#000">20</text>
<line x1="35.70" y1="721.80" x2="39.50" y2="721.80" stroke="#000" stroke-width="1.4"/>
<text x="34.50" y="725.50" font-size="10.3" font-weight="bold" font-style="normal" text-anchor="end" fill="#000">30</text>
<line x1="35.70" y1="700.40" x2="39.50" y2="700.40" stroke="#000" stroke-width="1.4"/>
<text x="34.50" y="704.10" font-size="10.3" font-weight="bold" font-style="normal" text-anchor="end" fill="#000">40</text>
<line x1="35.70" y1="679.00" x2="39.50" y2="679.00" stroke="#000" stroke-width="1.4"/>
<text x="34.50" y="682.70" font-size="10.3" font-weight="bold" font-style="normal" text-anchor="end" fill="#000">50</text>
<line x1="35.70" y1="657.60" x2="39.50" y2="657.60" stroke="#000" stroke-width="1.4"/>
<text x="34.50" y="661.30" font-size="10.3" font-weight="bold" font-style="normal" text-anchor="end" fill="#000">60</text>
<line x1="38.80" y1="786.00" x2="153.50" y2="786.00" stroke="#000" stroke-width="1.4"/>
<line x1="67.80" y1="786.00" x2="67.80" y2="789.50" stroke="#000" stroke-width="1.4"/>
<text x="70.40" y="799.20" font-size="9.75" font-weight="bold" font-style="normal" text-anchor="end" fill="#000" transform="rotate(-45 70.40 799.20)">Wt/Wt</text>
<line x1="124.80" y1="786.00" x2="124.80" y2="789.50" stroke="#000" stroke-width="1.4"/>
<text x="127.40" y="799.20" font-size="9.75" font-weight="bold" font-style="normal" text-anchor="end" fill="#000" transform="rotate(-45 127.40 799.20)">Wt/Hyper</text>
<text x="96.50" y="643.20" font-size="12.35" font-weight="bold" font-style="normal" text-anchor="middle" fill="#000">Extinction 3</text>
<text x="20.80" y="722.30" font-size="10.5" font-weight="bold" font-style="normal" text-anchor="middle" fill="#000" transform="rotate(-90 20.80 722.30)">Time on grid (s/min)</text>
<rect x="46.20" y="657.10" width="11.6" height="4.6" fill="#fff" stroke="#000" stroke-width="1.6"/>
<rect x="45.40" y="667.60" width="13.2" height="6.4" fill="#000"/>
<text x="66.10" y="662.90" font-size="10.6" font-weight="normal" font-style="normal" text-anchor="start" fill="#000">Grid -</text>
<text x="66.10" y="674.30" font-size="10.6" font-weight="normal" font-style="normal" text-anchor="start" fill="#000">Grid +</text>
<text x="112.00" y="657.90" font-size="12" font-weight="normal" font-style="normal" text-anchor="start" fill="#000">Day 7</text>
<line x1="258.70" y1="707.80" x2="258.70" y2="695.70" stroke="#000" stroke-width="1.5"/>
<line x1="254.20" y1="695.70" x2="263.20" y2="695.70" stroke="#000" stroke-width="1.5"/>
<path d="M250.30,786.00 V708.60 H267.10 V786.00" fill="#fff" stroke="#000" stroke-width="1.6"/>
<line x1="282.45" y1="708.90" x2="282.45" y2="702.20" stroke="#000" stroke-width="1.5"/>
<line x1="277.95" y1="702.20" x2="286.95" y2="702.20" stroke="#000" stroke-width="1.5"/>
<rect x="273.25" y="708.90" width="18.40" height="77.10" fill="#000"/>
<line x1="315.70" y1="708.60" x2="315.70" y2="699.90" stroke="#000" stroke-width="1.5"/>
<line x1="311.20" y1="699.90" x2="320.20" y2="699.90" stroke="#000" stroke-width="1.5"/>
<path d="M307.30,786.00 V709.40 H324.10 V786.00" fill="#fff" stroke="#000" stroke-width="1.6"/>
<line x1="339.20" y1="703.70" x2="339.20" y2="696.50" stroke="#000" stroke-width="1.5"/>
<line x1="334.70" y1="696.50" x2="343.70" y2="696.50" stroke="#000" stroke-width="1.5"/>
<rect x="330.00" y="703.70" width="18.40" height="82.30" fill="#000"/>
<line x1="242.00" y1="786.70" x2="242.00" y2="657.60" stroke="#000" stroke-width="1.4"/>
<line x1="238.20" y1="786.00" x2="242.00" y2="786.00" stroke="#000" stroke-width="1.4"/>
<text x="237.00" y="789.70" font-size="10.3" font-weight="bold" font-style="normal" text-anchor="end" fill="#000">0</text>
<line x1="238.20" y1="764.60" x2="242.00" y2="764.60" stroke="#000" stroke-width="1.4"/>
<text x="237.00" y="768.30" font-size="10.3" font-weight="bold" font-style="normal" text-anchor="end" fill="#000">10</text>
<line x1="238.20" y1="743.20" x2="242.00" y2="743.20" stroke="#000" stroke-width="1.4"/>
<text x="237.00" y="746.90" font-size="10.3" font-weight="bold" font-style="normal" text-anchor="end" fill="#000">20</text>
<line x1="238.20" y1="721.80" x2="242.00" y2="721.80" stroke="#000" stroke-width="1.4"/>
<text x="237.00" y="725.50" font-size="10.3" font-weight="bold" font-style="normal" text-anchor="end" fill="#000">30</text>
<line x1="238.20" y1="700.40" x2="242.00" y2="700.40" stroke="#000" stroke-width="1.4"/>
<text x="237.00" y="704.10" font-size="10.3" font-weight="bold" font-style="normal" text-anchor="end" fill="#000">40</text>
<line x1="238.20" y1="679.00" x2="242.00" y2="679.00" stroke="#000" stroke-width="1.4"/>
<text x="237.00" y="682.70" font-size="10.3" font-weight="bold" font-style="normal" text-anchor="end" fill="#000">50</text>
<line x1="238.20" y1="657.60" x2="242.00" y2="657.60" stroke="#000" stroke-width="1.4"/>
<text x="237.00" y="661.30" font-size="10.3" font-weight="bold" font-style="normal" text-anchor="end" fill="#000">60</text>
<line x1="241.30" y1="786.00" x2="356.00" y2="786.00" stroke="#000" stroke-width="1.4"/>
<line x1="270.30" y1="786.00" x2="270.30" y2="789.50" stroke="#000" stroke-width="1.4"/>
<text x="272.90" y="799.20" font-size="9.75" font-weight="bold" font-style="normal" text-anchor="end" fill="#000" transform="rotate(-45 272.90 799.20)">Wt/Wt</text>
<line x1="327.30" y1="786.00" x2="327.30" y2="789.50" stroke="#000" stroke-width="1.4"/>
<text x="329.90" y="799.20" font-size="9.75" font-weight="bold" font-style="normal" text-anchor="end" fill="#000" transform="rotate(-45 329.90 799.20)">Wt/Hyper</text>
<text x="299.30" y="643.20" font-size="12.4" font-weight="bold" font-style="normal" text-anchor="middle" fill="#000">Extinction 4</text>
<text x="223.30" y="722.30" font-size="10.5" font-weight="bold" font-style="normal" text-anchor="middle" fill="#000" transform="rotate(-90 223.30 722.30)">Time on grid (s/min)</text>
<rect x="249.10" y="658.60" width="11.6" height="4.6" fill="#fff" stroke="#000" stroke-width="1.6"/>
<rect x="248.30" y="669.10" width="13.2" height="6.4" fill="#000"/>
<text x="269.00" y="664.40" font-size="10.6" font-weight="normal" font-style="normal" text-anchor="start" fill="#000">Grid -</text>
<text x="269.00" y="675.80" font-size="10.6" font-weight="normal" font-style="normal" text-anchor="start" fill="#000">Grid +</text>
<text x="310.60" y="662.00" font-size="12" font-weight="normal" font-style="normal" text-anchor="start" fill="#000">Day 10</text>
<line x1="474.20" y1="708.10" x2="474.20" y2="698.10" stroke="#000" stroke-width="1.5"/>
<line x1="469.70" y1="698.10" x2="478.70" y2="698.10" stroke="#000" stroke-width="1.5"/>
<path d="M465.80,786.00 V708.90 H482.60 V786.00" fill="#fff" stroke="#000" stroke-width="1.6"/>
<line x1="497.95" y1="701.30" x2="497.95" y2="693.70" stroke="#000" stroke-width="1.5"/>
<line x1="493.45" y1="693.70" x2="502.45" y2="693.70" stroke="#000" stroke-width="1.5"/>
<rect x="488.75" y="701.30" width="18.40" height="84.70" fill="#000"/>
<line x1="531.20" y1="705.80" x2="531.20" y2="695.70" stroke="#000" stroke-width="1.5"/>
<line x1="526.70" y1="695.70" x2="535.70" y2="695.70" stroke="#000" stroke-width="1.5"/>
<path d="M522.80,786.00 V706.60 H539.60 V786.00" fill="#fff" stroke="#000" stroke-width="1.6"/>
<line x1="554.70" y1="706.70" x2="554.70" y2="697.80" stroke="#000" stroke-width="1.5"/>
<line x1="550.20" y1="697.80" x2="559.20" y2="697.80" stroke="#000" stroke-width="1.5"/>
<rect x="545.50" y="706.70" width="18.40" height="79.30" fill="#000"/>
<line x1="457.50" y1="786.70" x2="457.50" y2="657.60" stroke="#000" stroke-width="1.4"/>
<line x1="453.70" y1="786.00" x2="457.50" y2="786.00" stroke="#000" stroke-width="1.4"/>
<text x="452.50" y="789.70" font-size="10.3" font-weight="bold" font-style="normal" text-anchor="end" fill="#000">0</text>
<line x1="453.70" y1="764.60" x2="457.50" y2="764.60" stroke="#000" stroke-width="1.4"/>
<text x="452.50" y="768.30" font-size="10.3" font-weight="bold" font-style="normal" text-anchor="end" fill="#000">10</text>
<line x1="453.70" y1="743.20" x2="457.50" y2="743.20" stroke="#000" stroke-width="1.4"/>
<text x="452.50" y="746.90" font-size="10.3" font-weight="bold" font-style="normal" text-anchor="end" fill="#000">20</text>
<line x1="453.70" y1="721.80" x2="457.50" y2="721.80" stroke="#000" stroke-width="1.4"/>
<text x="452.50" y="725.50" font-size="10.3" font-weight="bold" font-style="normal" text-anchor="end" fill="#000">30</text>
<line x1="453.70" y1="700.40" x2="457.50" y2="700.40" stroke="#000" stroke-width="1.4"/>
<text x="452.50" y="704.10" font-size="10.3" font-weight="bold" font-style="normal" text-anchor="end" fill="#000">40</text>
<line x1="453.70" y1="679.00" x2="457.50" y2="679.00" stroke="#000" stroke-width="1.4"/>
<text x="452.50" y="682.70" font-size="10.3" font-weight="bold" font-style="normal" text-anchor="end" fill="#000">50</text>
<line x1="453.70" y1="657.60" x2="457.50" y2="657.60" stroke="#000" stroke-width="1.4"/>
<text x="452.50" y="661.30" font-size="10.3" font-weight="bold" font-style="normal" text-anchor="end" fill="#000">60</text>
<line x1="456.80" y1="786.00" x2="571.50" y2="786.00" stroke="#000" stroke-width="1.4"/>
<line x1="485.80" y1="786.00" x2="485.80" y2="789.50" stroke="#000" stroke-width="1.4"/>
<text x="488.40" y="799.20" font-size="9.75" font-weight="bold" font-style="normal" text-anchor="end" fill="#000" transform="rotate(-45 488.40 799.20)">Wt/Wt</text>
<line x1="542.80" y1="786.00" x2="542.80" y2="789.50" stroke="#000" stroke-width="1.4"/>
<text x="545.40" y="799.20" font-size="9.75" font-weight="bold" font-style="normal" text-anchor="end" fill="#000" transform="rotate(-45 545.40 799.20)">Wt/Hyper</text>
<text x="514.70" y="643.20" font-size="12.45" font-weight="bold" font-style="normal" text-anchor="middle" fill="#000">Extinction 5</text>
<text x="438.80" y="722.30" font-size="10.5" font-weight="bold" font-style="normal" text-anchor="middle" fill="#000" transform="rotate(-90 438.80 722.30)">Time on grid (s/min)</text>
<rect x="466.20" y="658.60" width="11.6" height="4.6" fill="#fff" stroke="#000" stroke-width="1.6"/>
<rect x="465.40" y="669.10" width="13.2" height="6.4" fill="#000"/>
<text x="486.10" y="664.40" font-size="10.6" font-weight="normal" font-style="normal" text-anchor="start" fill="#000">Grid -</text>
<text x="486.10" y="675.80" font-size="10.6" font-weight="normal" font-style="normal" text-anchor="start" fill="#000">Grid +</text>
<text x="524.50" y="657.90" font-size="12" font-weight="normal" font-style="normal" text-anchor="start" fill="#000">Day 12</text>
<line x1="695.55" y1="754.50" x2="695.55" y2="748.00" stroke="#000" stroke-width="1.5"/>
<line x1="691.05" y1="748.00" x2="700.05" y2="748.00" stroke="#000" stroke-width="1.5"/>
<path d="M687.15,786.00 V755.30 H703.95 V786.00" fill="#fff" stroke="#000" stroke-width="1.6"/>
<line x1="719.30" y1="685.00" x2="719.30" y2="679.10" stroke="#000" stroke-width="1.5"/>
<line x1="714.80" y1="679.10" x2="723.80" y2="679.10" stroke="#000" stroke-width="1.5"/>
<rect x="710.10" y="685.00" width="18.40" height="101.00" fill="#000"/>
<line x1="752.55" y1="755.40" x2="752.55" y2="750.30" stroke="#000" stroke-width="1.5"/>
<line x1="748.05" y1="750.30" x2="757.05" y2="750.30" stroke="#000" stroke-width="1.5"/>
<path d="M744.15,786.00 V756.20 H760.95 V786.00" fill="#fff" stroke="#000" stroke-width="1.6"/>
<line x1="776.05" y1="692.30" x2="776.05" y2="682.00" stroke="#000" stroke-width="1.5"/>
<line x1="771.55" y1="682.00" x2="780.55" y2="682.00" stroke="#000" stroke-width="1.5"/>
<rect x="766.85" y="692.30" width="18.40" height="93.70" fill="#000"/>
<line x1="678.85" y1="786.70" x2="678.85" y2="657.60" stroke="#000" stroke-width="1.4"/>
<line x1="675.05" y1="786.00" x2="678.85" y2="786.00" stroke="#000" stroke-width="1.4"/>
<text x="673.85" y="789.70" font-size="10.3" font-weight="bold" font-style="normal" text-anchor="end" fill="#000">0</text>
<line x1="675.05" y1="764.60" x2="678.85" y2="764.60" stroke="#000" stroke-width="1.4"/>
<text x="673.85" y="768.30" font-size="10.3" font-weight="bold" font-style="normal" text-anchor="end" fill="#000">10</text>
<line x1="675.05" y1="743.20" x2="678.85" y2="743.20" stroke="#000" stroke-width="1.4"/>
<text x="673.85" y="746.90" font-size="10.3" font-weight="bold" font-style="normal" text-anchor="end" fill="#000">20</text>
<line x1="675.05" y1="721.80" x2="678.85" y2="721.80" stroke="#000" stroke-width="1.4"/>
<text x="673.85" y="725.50" font-size="10.3" font-weight="bold" font-style="normal" text-anchor="end" fill="#000">30</text>
<line x1="675.05" y1="700.40" x2="678.85" y2="700.40" stroke="#000" stroke-width="1.4"/>
<text x="673.85" y="704.10" font-size="10.3" font-weight="bold" font-style="normal" text-anchor="end" fill="#000">40</text>
<line x1="675.05" y1="679.00" x2="678.85" y2="679.00" stroke="#000" stroke-width="1.4"/>
<text x="673.85" y="682.70" font-size="10.3" font-weight="bold" font-style="normal" text-anchor="end" fill="#000">50</text>
<line x1="675.05" y1="657.60" x2="678.85" y2="657.60" stroke="#000" stroke-width="1.4"/>
<text x="673.85" y="661.30" font-size="10.3" font-weight="bold" font-style="normal" text-anchor="end" fill="#000">60</text>
<line x1="678.15" y1="786.00" x2="792.85" y2="786.00" stroke="#000" stroke-width="1.4"/>
<line x1="707.15" y1="786.00" x2="707.15" y2="789.50" stroke="#000" stroke-width="1.4"/>
<text x="709.75" y="799.20" font-size="9.75" font-weight="bold" font-style="normal" text-anchor="end" fill="#000" transform="rotate(-45 709.75 799.20)">Wt/Wt</text>
<line x1="764.15" y1="786.00" x2="764.15" y2="789.50" stroke="#000" stroke-width="1.4"/>
<text x="766.75" y="799.20" font-size="9.75" font-weight="bold" font-style="normal" text-anchor="end" fill="#000" transform="rotate(-45 766.75 799.20)">Wt/Hyper</text>
<text x="735.40" y="643.20" font-size="12.3" font-weight="bold" font-style="normal" text-anchor="middle" fill="#000">Reinstatement</text>
<text x="660.15" y="722.30" font-size="10.5" font-weight="bold" font-style="normal" text-anchor="middle" fill="#000" transform="rotate(-90 660.15 722.30)">Time on grid (s/min)</text>
<rect x="684.30" y="649.70" width="11.6" height="4.6" fill="#fff" stroke="#000" stroke-width="1.6"/>
<rect x="683.50" y="660.20" width="13.2" height="6.4" fill="#000"/>
<text x="704.20" y="655.50" font-size="10.6" font-weight="normal" font-style="normal" text-anchor="start" fill="#000">Grid -</text>
<text x="704.20" y="666.90" font-size="10.6" font-weight="normal" font-style="normal" text-anchor="start" fill="#000">Grid +</text>
<text x="754.30" y="657.40" font-size="12" font-weight="normal" font-style="normal" text-anchor="start" fill="#000">Day 14</text>
<text x="719.80" y="680.00" font-size="11.5" font-weight="normal" font-style="normal" text-anchor="middle" fill="#000">***</text>
<text x="777.00" y="682.70" font-size="11.5" font-weight="normal" font-style="normal" text-anchor="middle" fill="#000">***</text>
</svg>
</body></html>
